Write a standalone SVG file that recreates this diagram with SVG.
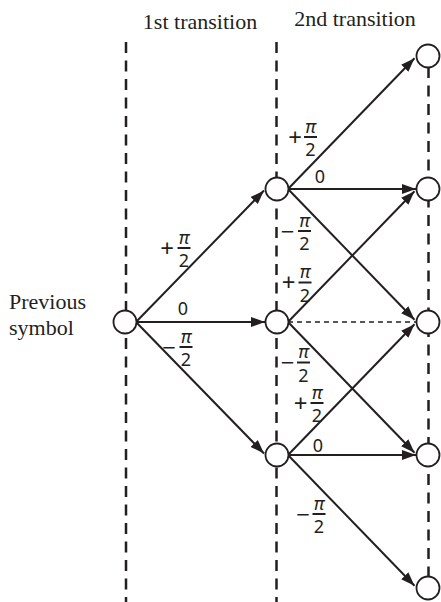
<svg xmlns="http://www.w3.org/2000/svg" xmlns:xlink="http://www.w3.org/1999/xlink" width="441" height="602" viewBox="0 0 441 602">
<style>
.title{font-family:"Liberation Serif","Times New Roman",serif;font-size:22px;fill:#231f20;}
.guide{stroke:#231f20;stroke-width:2.5;stroke-dasharray:11 7.5;fill:none;}
.node{fill:#fff;stroke:#231f20;stroke-width:1.8;}
.edge{stroke:#231f20;stroke-width:2;fill:none;marker-end:url(#ah);}
.dashed{stroke:#231f20;stroke-width:1.5;stroke-dasharray:5 4;fill:none;}
.m{font-family:"Noto Sans","DejaVu Sans",sans-serif;font-size:18px;fill:#231f20;text-anchor:middle;}
.s{font-size:24px;}
.pi{font-style:italic;}
.bar{stroke:#231f20;stroke-width:2;}
</style>
<defs>
<marker id="ah" markerUnits="userSpaceOnUse" markerWidth="14" markerHeight="10" refX="14" refY="5" orient="auto">
<path d="M0,0 L14,5 L0,10 z" fill="#231f20"/>
</marker>
<g id="frac">
<text class="m pi" x="0" y="-4.5">π</text>
<line class="bar" x1="-6.5" y1="0" x2="6.5" y2="0"/>
<text class="m" x="0" y="19">2</text>
</g>
</defs>

<g id="titles">
<text class="title" x="200" y="29" text-anchor="middle">1st transition</text>
<text class="title" x="355" y="26" text-anchor="middle">2nd transition</text>
<text class="title" x="9" y="309">Previous</text>
<text class="title" x="9" y="335">symbol</text>
</g>

<g id="guides">
<line class="guide" x1="126" y1="42" x2="126" y2="602"/>
<line class="guide" x1="276.5" y1="42" x2="276.5" y2="602"/>
<line class="guide" x1="428.5" y1="67" x2="428.5" y2="602"/>
</g>

<g id="connectors">
<path class="edge" d="M136,322 L264,190.5"/>
<path class="edge" d="M136,322 L265,322"/>
<path class="edge" d="M136,322 L264,453.5"/>
<path class="edge" d="M288,189 L414.5,58.2"/>
<path class="edge" d="M288,189 L416,189"/>
<path class="edge" d="M288,189 L414.5,319.8"/>
<path class="edge" d="M288,322 L414.5,191.2"/>
<path class="dashed" d="M288,322 L416,322"/>
<path class="edge" d="M288,322 L414.5,452.8"/>
<path class="edge" d="M288,455 L414.5,324.2"/>
<path class="edge" d="M288,455 L416,455"/>
<path class="edge" d="M288,455 L414.5,585.8"/>
</g>

<g id="labels">
<text class="m s" x="167" y="256.5">+</text><use xlink:href="#frac" x="184" y="248"/>
<text class="m" x="183" y="315">0</text>
<text class="m s" x="169" y="355.5">−</text><use xlink:href="#frac" x="186" y="347"/>
<text class="m s" x="295" y="145.5">+</text><use xlink:href="#frac" x="310.5" y="137"/>
<text class="m" x="320" y="183">0</text>
<text class="m s" x="287.5" y="239.5">−</text><use xlink:href="#frac" x="304.5" y="231"/>
<text class="m s" x="288.5" y="291">+</text><use xlink:href="#frac" x="305" y="282.5"/>
<text class="m s" x="287.5" y="371">−</text><use xlink:href="#frac" x="303.5" y="362.5"/>
<text class="m s" x="300.5" y="411.5">+</text><use xlink:href="#frac" x="317" y="403"/>
<text class="m" x="318" y="452">0</text>
<text class="m s" x="303" y="522.5">−</text><use xlink:href="#frac" x="319" y="514"/>
</g>

<g id="node-prev"><circle class="node" cx="125" cy="322" r="11.5"/></g>
<g id="node-m1"><circle class="node" cx="277" cy="189" r="11.5"/></g>
<g id="node-m2"><circle class="node" cx="277" cy="322" r="11.5"/></g>
<g id="node-m3"><circle class="node" cx="277" cy="455" r="11.5"/></g>
<g id="node-r0"><circle class="node" cx="428" cy="56" r="11.5"/></g>
<g id="node-r1"><circle class="node" cx="428" cy="189" r="11.5"/></g>
<g id="node-r2"><circle class="node" cx="428" cy="322" r="11.5"/></g>
<g id="node-r3"><circle class="node" cx="428" cy="455" r="11.5"/></g>
<g id="node-r4"><circle class="node" cx="428" cy="588" r="11.5"/></g>
</svg>
